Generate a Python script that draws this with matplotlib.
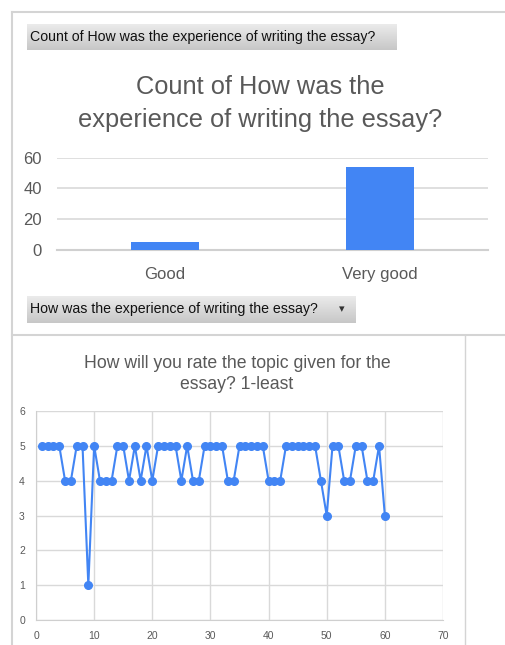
import numpy as np
import matplotlib.pyplot as plt
from matplotlib.lines import Line2D

plt.rcParams['font.family'] = ['Liberation Sans', 'DejaVu Sans']

W, H = 505, 645

# data
categories = ['Good', 'Very good']
counts = [5, 54]
bar_yticks = [0, 20, 40, 60]

rating = [5, 5, 5, 5, 4, 4, 5, 5, 1, 5,
          4, 4, 4, 5, 5, 4, 5, 4, 5, 4,
          5, 5, 5, 5, 4, 5, 4, 4, 5, 5,
          5, 5, 4, 4, 5, 5, 5, 5, 5, 4,
          4, 4, 5, 5, 5, 5, 5, 5, 4, 3,
          5, 5, 4, 4, 5, 5, 4, 4, 5, 3]
resp_no = np.arange(1, len(rating) + 1)

btn1 = 'Count of How was the experience of writing the essay?'
btn2 = 'How was the experience of writing the essay?'

blue = '#4285F4'
txt = '#595959'
grid = '#d9d9d9'


def box(x0, y0, x1, y1):
    # pixel box (top-left origin) -> figure fraction rect
    return [x0 / W, 1 - y1 / H, (x1 - x0) / W, (y1 - y0) / H]


def fx(x):
    return x / W


def fy(y):
    return 1 - y / H


fig = plt.figure(figsize=(W / 100, H / 100), dpi=100)
fig.patch.set_facecolor('white')

# frame lines
border = '#d4d4d4'
fig.add_artist(Line2D([fx(12), fx(505)], [fy(12), fy(12)], color=border, lw=1.5))
fig.add_artist(Line2D([fx(12), fx(12)], [fy(12), fy(645)], color=border, lw=1.5))
fig.add_artist(Line2D([fx(12), fx(505)], [fy(335), fy(335)], color=border, lw=1.5))
fig.add_artist(Line2D([fx(465), fx(465)], [fy(335), fy(645)], color=border, lw=1.0))


def button(x0, y0, x1, y1, label, fs, arrow=False):
    bax = fig.add_axes(box(x0, y0, x1, y1))
    grad = np.linspace(0.92, 0.78, 50).reshape(-1, 1)
    bax.imshow(grad, cmap='gray', vmin=0, vmax=1, aspect='auto', extent=[0, 1, 0, 1])
    bax.set_xlim(0, 1)
    bax.set_ylim(0, 1)
    bax.axis('off')
    fig.text(fx(x0 + 3), fy((y0 + y1) / 2), label, fontsize=fs, color='#111111',
             va='center', ha='left')
    if arrow:
        fig.text(fx(x1 - 13), fy((y0 + y1) / 2), '\u25BE', fontsize=8, color='#333333',
                 va='center', ha='center', family='DejaVu Sans')


button(27, 24, 397, 50, btn1, 10.2)
button(27, 296, 355, 323, btn2, 10.2, arrow=True)

# top title
fig.text(fx(260), fy(94), 'Count of How was the', fontsize=18.3, color=txt, ha='center', va='baseline')
fig.text(fx(260), fy(127), 'experience of writing the essay?', fontsize=18.3, color=txt,
         ha='center', va='baseline')

# bar chart
ax1 = fig.add_axes(box(57, 157.7, 488, 250))
x = np.arange(len(categories))
ax1.bar(x, counts, width=0.315, color=blue, zorder=3)
ax1.set_xlim(-0.5, 1.5)
ax1.set_ylim(0, 60)
ax1.set_yticks(bar_yticks)
ax1.set_xticks(x)
ax1.set_xticklabels(categories)
ax1.grid(axis='y', color=grid, lw=1.2, zorder=0)
for s in ['top', 'right', 'left']:
    ax1.spines[s].set_visible(False)
ax1.spines['bottom'].set_color('#d0d0d0')
ax1.spines['bottom'].set_linewidth(1.5)
ax1.tick_params(length=0, labelsize=12, labelcolor=txt)
ax1.tick_params(axis='y', pad=11)
ax1.tick_params(axis='x', pad=12)

# line chart title
fig.text(fx(237), fy(368), 'How will you rate the topic given for the', fontsize=12.7, color=txt,
         ha='center', va='baseline')
fig.text(fx(237), fy(389), 'essay? 1-least', fontsize=12.7, color=txt, ha='center', va='baseline')

ax2 = fig.add_axes(box(36, 411, 443, 620))
ax2.plot(resp_no, rating, color=blue, lw=1.5, marker='o', ms=5.5, zorder=3)
ax2.set_xlim(0, 70)
ax2.set_ylim(0, 6)
ax2.set_xticks(range(0, 71, 10))
ax2.set_yticks(range(0, 7))
ax2.grid(color=grid, lw=1, zorder=0)
for s in ['top', 'right']:
    ax2.spines[s].set_visible(False)
for s in ['left', 'bottom']:
    ax2.spines[s].set_color('#cfcfcf')
ax2.tick_params(length=0, labelsize=7.5, labelcolor=txt)
ax2.tick_params(axis='y', pad=8)
ax2.tick_params(axis='x', pad=8)

fig.savefig('out.png', dpi=100, facecolor='white')
